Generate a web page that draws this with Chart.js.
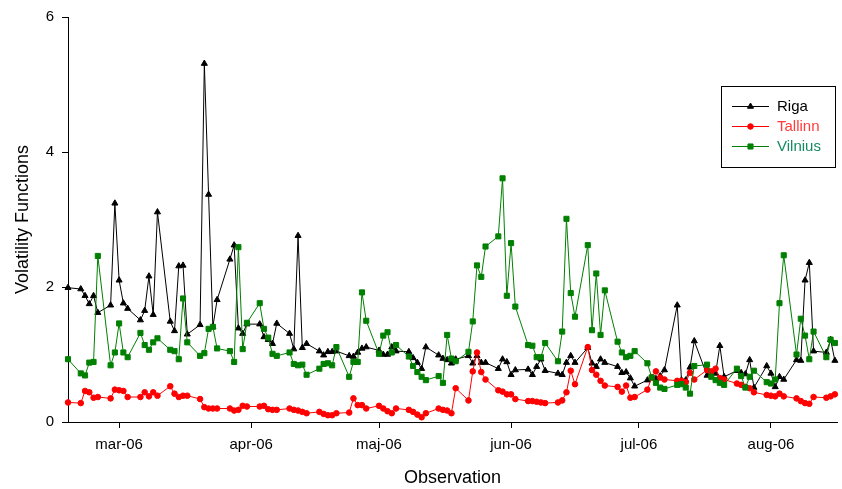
<!DOCTYPE html>
<html>
<head>
<meta charset="utf-8">
<script src="https://cdn.jsdelivr.net/npm/chart.js@4"></script>
<style>
  body { margin: 0; background: #fff; }
  #wrap { width: 842px; height: 489px; }
</style>
</head>
<body>
<div id="wrap"><canvas id="volChart"></canvas></div>
<script>
// trading days as day of year 2006 (0 = 1 Jan), 17 Feb .. 16 Aug
const days = [
    47,
    50, 51, 52, 53, 54,
    57, 58, 59, 60, 61,
    64, 65, 66, 67, 68,
    71, 72, 73, 74, 75,
    78, 79, 80, 81, 82,
    85, 86, 87, 88, 89,
    92, 93, 94, 95, 96,
    99, 100, 101, 102, 103,
    106, 107, 108, 109, 110,
    113, 114, 115, 116, 117,
    120, 121, 122, 123, 124,
    127, 128, 129, 130, 131,
    134, 135, 136, 137, 138,
    141, 142, 143, 144, 145,
    148, 149, 150, 151, 152,
    155, 156, 157, 158, 159,
    162, 163, 164, 165, 166,
    169, 170, 171, 172, 173,
    176, 177, 178, 179, 180,
    183, 184, 185, 186, 187,
    190, 191, 192, 193, 194,
    197, 198, 199, 200, 201,
    204, 205, 206, 207, 208,
    211, 212, 213, 214, 215,
    218, 219, 220, 221, 222,
    225, 226, 227
];

const riga = [
    1.99,
    1.97, 1.87, 1.75, 1.87, 1.62,
    1.73, 3.24, 2.10, 1.76, 1.68,
    1.51, 1.65, 2.16, 1.59, 3.11,
    1.49, 1.35, 2.31, 2.32, 1.30,
    1.44, 5.31, 3.37, 1.41, 1.81,
    2.41, 2.62, 1.39, 1.31, 1.45,
    1.45, 1.26, 1.22, 1.16, 1.46,
    1.31, 1.08, 2.76, 1.10, 1.16,
    1.05, 0.99, 1.04, 1.04, 1.05,
    0.98, 0.97, 1.03, 1.09, 1.11,
    1.06, 1.00, 1.00, 1.11, 1.05,
    1.04, 0.95, 0.88, 0.79, 1.11,
    0.99, 0.94, 0.92, 0.87, 0.93,
    0.98, 0.87, 0.98, 0.88, 0.88,
    0.79, 0.93, 0.89, 0.70, 0.77,
    0.78, 0.70, 0.82, 0.93, 0.76,
    0.72, 0.70, 0.88, 0.98, 0.88,
    1.10, 0.87, 0.82, 0.93, 0.88,
    0.82, 0.73, 0.74, 0.65, 0.53,
    0.62, 0.66, 0.64, 0.68, 0.77,
    1.73, 0.62, 0.62, 0.81, 1.20,
    0.69, 0.73, 0.72, 1.13, 0.67,
    0.76, 0.73, 0.71, 0.92, 0.51,
    0.83, 0.72, 0.52, 0.67, 0.63,
    0.92, 0.91, 2.10, 2.36, 1.05,
    1.03, 1.22, 0.91
];

const tallinn = [
    0.29,
    0.28, 0.46, 0.44, 0.36, 0.37,
    0.35, 0.48, 0.47, 0.46, 0.37,
    0.37, 0.44, 0.38, 0.44, 0.39,
    0.53, 0.42, 0.37, 0.39, 0.39,
    0.34, 0.22, 0.20, 0.20, 0.20,
    0.20, 0.17, 0.18, 0.24, 0.23,
    0.23, 0.24, 0.19, 0.18, 0.18,
    0.20, 0.18, 0.17, 0.15, 0.13,
    0.15, 0.12, 0.10, 0.10, 0.13,
    0.14, 0.35, 0.25, 0.25, 0.20,
    0.24, 0.20, 0.16, 0.13, 0.20,
    0.18, 0.15, 0.11, 0.07, 0.13,
    0.20, 0.18, 0.17, 0.13, 0.50,
    0.32, 0.75, 1.03, 0.74, 0.63,
    0.47, 0.45, 0.41, 0.41, 0.34,
    0.31, 0.31, 0.30, 0.29, 0.28,
    0.29, 0.32, 0.44, 0.76, 0.56,
    1.11, 0.77, 0.70, 0.61, 0.54,
    0.52, 0.45, 0.54, 0.36, 0.37,
    0.48, 0.66, 0.75, 0.66, 0.63,
    0.61, 0.61, 0.59, 0.73, 0.63,
    0.77, 0.75, 0.79, 0.65, 0.63,
    0.57, 0.55, 0.52, 0.50, 0.44,
    0.40, 0.39, 0.38, 0.42, 0.38,
    0.35, 0.31, 0.28, 0.27, 0.37,
    0.36, 0.38, 0.41
];

const vilnius = [
    0.93,
    0.72, 0.69, 0.88, 0.89, 2.46,
    0.84, 1.03, 1.46, 1.03, 0.96,
    1.32, 1.14, 1.07, 1.18, 1.24,
    1.07, 1.05, 0.93, 1.83, 1.18,
    0.98, 1.02, 1.38, 1.41, 1.09,
    1.05, 0.89, 2.59, 1.08, 1.47,
    1.76, 1.38, 1.25, 1.01, 0.98,
    1.03, 0.86, 0.84, 0.85, 0.70,
    0.79, 0.86, 0.87, 0.84, 1.11,
    0.67, 0.89, 0.89, 1.92, 1.50,
    1.01, 1.28, 1.33, 1.03, 1.14,
    0.97, 0.83, 0.74, 0.67, 0.62,
    0.68, 0.58, 1.29, 0.94, 0.90,
    1.04, 1.49, 2.32, 2.15, 2.60,
    2.75, 3.61, 1.87, 2.65, 1.71,
    1.14, 1.13, 0.96, 0.96, 1.17,
    0.90, 1.34, 3.01, 1.91, 1.56,
    2.62, 1.36, 2.20, 1.29, 1.95,
    1.19, 1.03, 0.96, 0.98, 1.05,
    0.87, 0.66, 0.58, 0.51, 0.49,
    0.55, 0.56, 0.51, 0.42, 0.83,
    0.85, 0.67, 0.62, 0.58, 0.55,
    0.79, 0.68, 0.51, 0.67, 0.76,
    0.59, 0.57, 0.63, 1.76, 2.47,
    1.00, 1.53, 1.28, 0.93, 1.34,
    0.96, 1.22, 1.17
];

// month starts (day of year) and their labels
const monthTicks = [59, 90, 120, 151, 181, 212];
const monthLabels = ['mar-06', 'apr-06', 'maj-06', 'jun-06', 'jul-06', 'aug-06'];

const legendTextColors = ['#000000', '#ff3b3b', '#158a62'];
const FONT = '"Liberation Sans", Arial, sans-serif';

function toPoints(vals) {
    return days.map((d, i) => ({ x: d, y: vals[i] }));
}

// legend box with line + marker samples, like the original
const boxLegend = {
    id: 'boxLegend',
    afterDraw(chart) {
        const ctx = chart.ctx;
        const a = chart.chartArea;
        const x0 = Math.round(a.right - 116);
        const y0 = Math.round(a.top + 69);
        ctx.save();
        ctx.strokeStyle = '#000';
        ctx.lineWidth = 1;
        ctx.strokeRect(x0 + 0.5, y0 + 0.5, 114, 81);
        chart.data.datasets.forEach((ds, i) => {
            const y = y0 + 20 + i * 20;
            ctx.strokeStyle = ds.borderColor;
            ctx.lineWidth = 1;
            ctx.beginPath();
            ctx.moveTo(x0 + 11, y + 0.5);
            ctx.lineTo(x0 + 48, y + 0.5);
            ctx.stroke();
            ctx.fillStyle = ds.pointBackgroundColor;
            ctx.strokeStyle = ds.pointBorderColor;
            Chart.helpers.drawPoint(ctx, {
                pointStyle: ds.pointStyle,
                radius: ds.pointRadius,
                rotation: 0,
                borderWidth: 1
            }, x0 + 29.5, y + 0.5);
            ctx.fillStyle = legendTextColors[i];
            ctx.font = '15px ' + FONT;
            ctx.textBaseline = 'middle';
            ctx.textAlign = 'left';
            ctx.fillText(ds.label, x0 + 56, y + 1);
        });
        ctx.restore();
    }
};

window.onload = function () {
    const ctx = document.getElementById('volChart').getContext('2d');

    new Chart(ctx, {
        type: 'line',
        data: {
            datasets: [
                {
                    label: 'Riga',
                    data: toPoints(riga),
                    borderColor: '#000000',
                    pointBackgroundColor: '#000000',
                    pointBorderColor: '#000000',
                    pointStyle: 'triangle',
                    pointRadius: 3.5,
                    borderWidth: 1,
                    clip: false,
                    order: 3
                },
                {
                    label: 'Tallinn',
                    data: toPoints(tallinn),
                    borderColor: '#ff0000',
                    pointBackgroundColor: '#ff0000',
                    pointBorderColor: '#ff0000',
                    pointStyle: 'circle',
                    pointRadius: 2.8,
                    borderWidth: 1,
                    clip: false,
                    order: 2
                },
                {
                    label: 'Vilnius',
                    data: toPoints(vilnius),
                    borderColor: '#008000',
                    pointBackgroundColor: '#008000',
                    pointBorderColor: '#008000',
                    pointStyle: 'rect',
                    pointRadius: 3.6,
                    borderWidth: 1,
                    clip: false,
                    order: 1
                }
            ]
        },
        plugins: [boxLegend],
        options: {
            responsive: true,
            maintainAspectRatio: false,
            animation: false,
            layout: {
                padding: { top: 16, right: 4, left: 0, bottom: 0 }
            },
            plugins: {
                legend: { display: false },
                tooltip: { enabled: false }
            },
            scales: {
                x: {
                    type: 'linear',
                    min: 47,
                    max: 227.5,
                    border: { display: true, color: '#000', width: 1 },
                    grid: {
                        drawOnChartArea: false,
                        drawTicks: true,
                        tickLength: 6,
                        color: '#000'
                    },
                    afterBuildTicks(scale) {
                        scale.ticks = monthTicks.map(v => ({ value: v }));
                    },
                    afterFit(scale) {
                        scale.height = 67;
                    },
                    ticks: {
                        color: '#000',
                        padding: 8,
                        maxRotation: 0,
                        autoSkip: false,
                        font: { family: FONT, size: 15 },
                        callback: function (value) {
                            const i = monthTicks.indexOf(value);
                            return i >= 0 ? monthLabels[i] : '';
                        }
                    },
                    title: {
                        display: true,
                        text: 'Observation',
                        color: '#000',
                        font: { family: FONT, size: 18 },
                        padding: { top: 0, bottom: 0 }
                    }
                },
                y: {
                    min: 0,
                    max: 6,
                    border: { display: true, color: '#000', width: 1 },
                    grid: {
                        drawOnChartArea: false,
                        drawTicks: true,
                        tickLength: 6,
                        color: '#000'
                    },
                    afterFit(scale) {
                        scale.width = 68;
                    },
                    ticks: {
                        stepSize: 2,
                        color: '#000',
                        padding: 8,
                        font: { family: FONT, size: 15 }
                    },
                    title: {
                        display: true,
                        text: 'Volatility Functions',
                        color: '#000',
                        font: { family: FONT, size: 18 },
                        padding: { top: 12, bottom: 0 }
                    }
                }
            }
        }
    });
};
</script>
</body>
</html>
